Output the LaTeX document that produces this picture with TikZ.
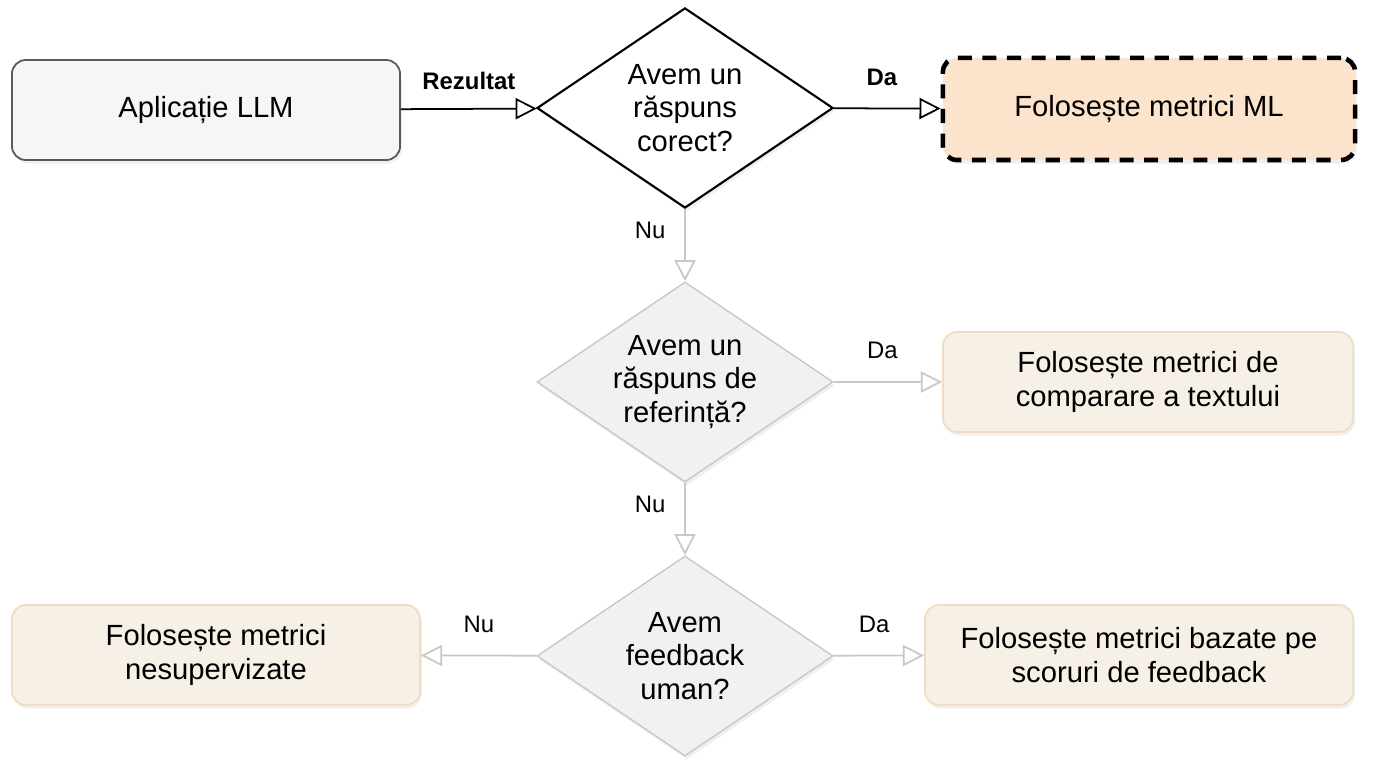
\documentclass[tikz,border=0pt]{standalone}
\usepackage{fontspec}
\setmainfont{Liberation Sans}
\usetikzlibrary{shapes.geometric,arrows.meta,shadows}
\definecolor{gline}{HTML}{C8C8C8}
\definecolor{dfill}{HTML}{F1F1F1}
\definecolor{bfill}{HTML}{F6F0E7}
\definecolor{bline}{HTML}{F0DDC0}
\definecolor{mlfill}{HTML}{FBE3CC}
\begin{document}
\begin{tikzpicture}[x=0.01cm,y=-0.01cm,
  every node/.style={font=\fontsize{8.3}{9.5}\selectfont, align=center},
  shd/.style={drop shadow={opacity=0.12,shadow xshift=0.5pt,shadow yshift=-1pt}},
  box/.style={rounded corners=4pt, fill=bfill, draw=bline, line width=0.5pt, shd},
  dia/.style={diamond, inner sep=0pt, minimum width=2.96cm, minimum height=2cm, aspect=1.48, shd},
  arr/.style={-{Triangle[open,length=6pt,width=6pt]}, line width=0.5pt},
  garr/.style={arr, draw=gline},
  lbl/.style={font=\fontsize{6.8}{8}\selectfont}
]
\useasboundingbox (0,0) rectangle (1376,768);
\node[box, fill=gray!7, draw=gray!70!black, minimum width=3.88cm, minimum height=1cm] (app) at (206,110) {Aplicație LLM};
\node[dia, draw=black, fill=white, line width=0.6pt] (d1) at (685,108) {Avem un\\răspuns\\corect?};
\node[box, fill=mlfill, draw=black, dashed, line width=1.3pt, dash pattern=on 4pt off 3pt, minimum width=4.12cm, minimum height=1.02cm] (ml) at (1149,109) {Folosește metrici ML};
\node[dia, draw=gline, fill=dfill] (d2) at (685,382) {Avem un\\răspuns de\\referință?};
\node[box, minimum width=4.1cm, minimum height=1cm] (b2) at (1148,382) {Folosește metrici de\\comparare a textului};
\node[dia, draw=gline, fill=dfill] (d3) at (685,656) {Avem\\feedback\\uman?};
\node[box, minimum width=4.08cm, minimum height=1cm] (bl) at (216,655) {Folosește metrici\\nesupervizate};
\node[box, minimum width=4.28cm, minimum height=1cm] (br) at (1139,655) {Folosește metrici bazate pe\\scoruri de feedback};
\draw[arr] (app) -- (d1) node[pos=0.5, above=2pt, lbl, font=\fontsize{6.8}{8}\selectfont\bfseries] {Rezultat};
\draw[arr] (d1) -- (ml) node[pos=0.45, above=3pt, lbl, font=\fontsize{6.8}{8}\selectfont\bfseries] {Da};
\draw[garr] (d1) -- (d2) node[pos=0.3, left=2pt, lbl] {Nu};
\draw[garr] (d2) -- (b2) node[pos=0.45, above=3pt, lbl] {Da};
\draw[garr] (d2) -- (d3) node[pos=0.3, left=2pt, lbl] {Nu};
\draw[garr] (d3) -- (bl) node[pos=0.5, above=3pt, lbl] {Nu};
\draw[garr] (d3) -- (br) node[pos=0.45, above=3pt, lbl] {Da};
\end{tikzpicture}
\end{document}
